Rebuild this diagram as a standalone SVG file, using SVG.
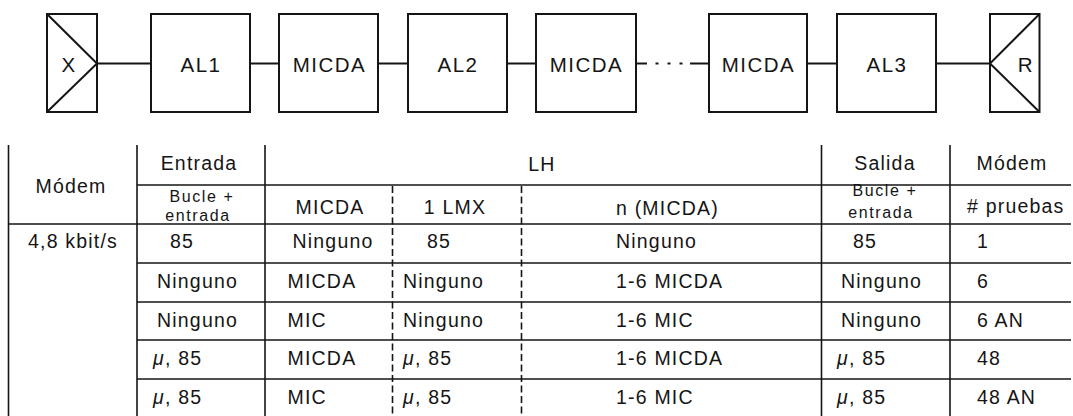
<svg xmlns="http://www.w3.org/2000/svg" width="1073" height="416" viewBox="0 0 1073 416">
<style>
.box{fill:none;stroke:#151515;stroke-width:2}
.con{fill:none;stroke:#151515;stroke-width:2}
.lbl{font-family:"Liberation Sans",Arial,sans-serif;font-size:20.5px;letter-spacing:1.5px;fill:#151515;text-anchor:middle}
.t{font-family:"Liberation Sans",Arial,sans-serif;font-size:19.5px;letter-spacing:1.2px;fill:#151515}
.s{font-family:"Liberation Sans",Arial,sans-serif;font-size:16px;letter-spacing:1.6px;fill:#151515;text-anchor:middle}
.m{text-anchor:middle}
.grid{stroke:#151515;stroke-width:1.6;fill:none}
.dash{stroke:#151515;stroke-width:1.6;fill:none;stroke-dasharray:7 3.5}
.it{font-style:italic}
</style>
<rect width="1073" height="416" fill="#ffffff"/>
<g id="connectors">
<line class="con" x1="97" y1="63.5" x2="151" y2="63.5"/>
<line class="con" x1="250" y1="63.5" x2="279" y2="63.5"/>
<line class="con" x1="378" y1="63.5" x2="408" y2="63.5"/>
<line class="con" x1="507" y1="63.5" x2="536" y2="63.5"/>
<line class="con" x1="636" y1="63.5" x2="647" y2="63.5"/>
<line class="con" x1="655.5" y1="63.5" x2="658.5" y2="63.5"/>
<line class="con" x1="667.5" y1="63.5" x2="670.5" y2="63.5"/>
<line class="con" x1="679.5" y1="63.5" x2="682.5" y2="63.5"/>
<line class="con" x1="690" y1="63.5" x2="709" y2="63.5"/>
<line class="con" x1="807" y1="63.5" x2="837" y2="63.5"/>
<line class="con" x1="936" y1="63.5" x2="990" y2="63.5"/>
</g>
<g id="node-x">
<rect class="box" x="47" y="14" width="50" height="98"/>
<polyline class="box" points="47,14 97,63.5 47,112"/>
<text class="lbl" x="69" y="72">X</text>
</g>
<g id="node-al1">
<rect class="box" x="151" y="14" width="99" height="98"/>
<text class="lbl" x="201" y="72">AL1</text>
</g>
<g id="node-micda1">
<rect class="box" x="279" y="14" width="99" height="98"/>
<text class="lbl" x="329.5" y="72">MICDA</text>
</g>
<g id="node-al2">
<rect class="box" x="408" y="14" width="99" height="98"/>
<text class="lbl" x="458" y="72">AL2</text>
</g>
<g id="node-micda2">
<rect class="box" x="536" y="14" width="100" height="98"/>
<text class="lbl" x="586.5" y="72">MICDA</text>
</g>
<g id="node-micda3">
<rect class="box" x="709" y="14" width="98" height="98"/>
<text class="lbl" x="758.5" y="72">MICDA</text>
</g>
<g id="node-al3">
<rect class="box" x="837" y="14" width="99" height="98"/>
<text class="lbl" x="887" y="72">AL3</text>
</g>
<g id="node-r">
<rect class="box" x="990" y="14" width="49.5" height="98"/>
<polyline class="box" points="1039.5,14 990,63.5 1039.5,112"/>
<text class="lbl" x="1026" y="72">R</text>
</g>
<g id="table">
<g id="table-lines">
<line class="grid" x1="8.5" y1="145" x2="8.5" y2="416"/>
<line class="grid" x1="137" y1="145" x2="137" y2="416"/>
<line class="grid" x1="265" y1="145" x2="265" y2="416"/>
<line class="grid" x1="821.5" y1="145" x2="821.5" y2="416"/>
<line class="grid" x1="950" y1="145" x2="950" y2="416"/>
<line class="dash" x1="392.5" y1="186" x2="392.5" y2="416"/>
<line class="dash" x1="521.5" y1="186" x2="521.5" y2="416"/>
<line class="grid" x1="137" y1="185" x2="1071" y2="185"/>
<line class="grid" x1="8" y1="224" x2="1071" y2="224"/>
<line class="grid" x1="137" y1="263" x2="1071" y2="263"/>
<line class="grid" x1="137" y1="302" x2="1071" y2="302"/>
<line class="grid" x1="137" y1="340" x2="1071" y2="340"/>
<line class="grid" x1="137" y1="379" x2="1071" y2="379"/>
</g>
<g id="table-header">
<text class="t m" x="71" y="193">Módem</text>
<text class="t m" x="199" y="170">Entrada</text>
<text class="t m" x="542" y="171">LH</text>
<text class="t m" x="885" y="170">Salida</text>
<text class="t m" x="1012" y="170">Módem</text>
<text class="s" x="202" y="202">Bucle +</text>
<text class="s" x="198" y="220.5">entrada</text>
<text class="t m" x="330" y="214">MICDA</text>
<text class="t m" x="455" y="214">1 LMX</text>
<text class="t" x="616" y="215">n (MICDA)</text>
<text class="s" x="885" y="196">Bucle +</text>
<text class="s" x="881" y="218">entrada</text>
<text class="t" x="967" y="213"># pruebas</text>
</g>
<g id="table-body">
<text class="t" x="28" y="248">4,8 kbit/s</text>
<text class="t" x="170" y="248">85</text>
<text class="t" x="292.5" y="248">Ninguno</text>
<text class="t" x="427" y="248">85</text>
<text class="t" x="616" y="248">Ninguno</text>
<text class="t" x="853" y="248">85</text>
<text class="t" x="977" y="248">1</text>

<text class="t" x="157" y="287.5">Ninguno</text>
<text class="t" x="287.5" y="287.5">MICDA</text>
<text class="t" x="403" y="287.5">Ninguno</text>
<text class="t" x="616" y="287.5">1-6 MICDA</text>
<text class="t" x="841" y="287.5">Ninguno</text>
<text class="t" x="977" y="287.5">6</text>

<text class="t" x="157" y="326.5">Ninguno</text>
<text class="t" x="287.5" y="326.5">MIC</text>
<text class="t" x="403" y="326.5">Ninguno</text>
<text class="t" x="616" y="326.5">1-6 MIC</text>
<text class="t" x="841" y="326.5">Ninguno</text>
<text class="t" x="977" y="326.5">6 AN</text>

<text class="t" x="153" y="365"><tspan class="it">μ</tspan>, 85</text>
<text class="t" x="287.5" y="365">MICDA</text>
<text class="t" x="403" y="365"><tspan class="it">μ</tspan>, 85</text>
<text class="t" x="616" y="365">1-6 MICDA</text>
<text class="t" x="837" y="365"><tspan class="it">μ</tspan>, 85</text>
<text class="t" x="977" y="365">48</text>

<text class="t" x="153" y="403.5"><tspan class="it">μ</tspan>, 85</text>
<text class="t" x="287.5" y="403.5">MIC</text>
<text class="t" x="403" y="403.5"><tspan class="it">μ</tspan>, 85</text>
<text class="t" x="616" y="403.5">1-6 MIC</text>
<text class="t" x="837" y="403.5"><tspan class="it">μ</tspan>, 85</text>
<text class="t" x="977" y="403.5">48 AN</text>
</g>
</g>
</svg>
